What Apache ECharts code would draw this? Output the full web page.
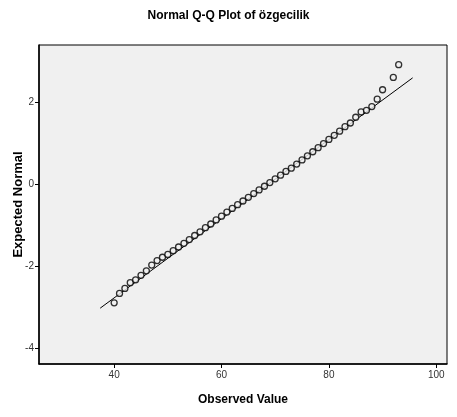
<!DOCTYPE html>
<html>
<head>
<meta charset="utf-8">
<title>Normal Q-Q Plot of özgecilik</title>
<script src="https://cdn.jsdelivr.net/npm/echarts@6/dist/echarts.min.js"></script>
<style>
  html, body { margin: 0; padding: 0; background: #fff; }
  #qqChart { width: 457px; height: 417px; }
</style>
</head>
<body>
<div id="qqChart"></div>
<script>
// observed values (one point per distinct value)
const observed = [
  40, 41, 42, 43, 44, 45, 46, 47, 48, 49,
  50, 51, 52, 53, 54, 55, 56, 57, 58, 59,
  60, 61, 62, 63, 64, 65, 66, 67, 68, 69,
  70, 71, 72, 73, 74, 75, 76, 77, 78, 79,
  80, 81, 82, 83, 84, 85, 86, 87, 88, 89,
  90, 92, 93
];
// expected normal values
const expected = [
  -2.89, -2.66, -2.54, -2.40, -2.33, -2.22, -2.11, -1.97, -1.86, -1.78,
  -1.71, -1.62, -1.53, -1.44, -1.35, -1.25, -1.16, -1.06, -0.97, -0.87,
  -0.78, -0.68, -0.59, -0.50, -0.41, -0.32, -0.23, -0.14, -0.05, 0.04,
  0.13, 0.22, 0.31, 0.39, 0.49, 0.59, 0.69, 0.79, 0.89, 0.99,
  1.09, 1.19, 1.29, 1.40, 1.49, 1.63, 1.76, 1.80, 1.89, 2.07,
  2.30, 2.60, 2.91
];
// reference line end points
const refLineX = [37.4, 95.6];
const refLineY = [-3.02, 2.59];
// tick labels
const xTicks = [40, 60, 80, 100];
const yTicks = [-4, -2, 0, 2];

const font = '"Liberation Sans Narrow", "Liberation Sans", Arial, sans-serif';

const chart = echarts.init(document.getElementById('qqChart'));
chart.setOption({
  animation: false,
  title: {
    text: 'Normal Q-Q Plot of özgecilik',
    left: 'center',
    top: 5,
    textStyle: { fontFamily: font, fontSize: 12, fontWeight: 'bold', color: '#000' }
  },
  grid: {
    left: 39, top: 45, right: 10, bottom: 53,
    outerBoundsMode: 'none',
    containLabel: false,
    show: true,
    backgroundColor: '#f0f0f0',
    borderColor: '#000',
    borderWidth: 1
  },
  xAxis: {
    type: 'value',
    min: 26, max: 102,
    name: 'Observed Value',
    nameLocation: 'middle',
    nameGap: 30,
    nameMoveOverlap: false,
    nameTextStyle: { fontFamily: font, fontSize: 12, fontWeight: 'bold', color: '#000' },
    splitLine: { show: false },
    axisLine: { show: true, onZero: false, lineStyle: { color: '#000', width: 1.5 } },
    axisTick: { show: true, length: 4, customValues: xTicks, lineStyle: { color: '#000' } },
    axisLabel: { customValues: xTicks, margin: 6, fontFamily: font, fontSize: 10, color: '#333' }
  },
  yAxis: {
    type: 'value',
    min: -4.38, max: 3.39,
    name: 'Expected Normal',
    nameLocation: 'middle',
    nameGap: 14,
    nameMoveOverlap: false,
    nameTextStyle: { fontFamily: font, fontSize: 13, fontWeight: 'bold', color: '#000' },
    splitLine: { show: false },
    axisLine: { show: true, onZero: false, lineStyle: { color: '#000', width: 1.5 } },
    axisTick: { show: true, length: 4, customValues: yTicks, lineStyle: { color: '#000' } },
    axisLabel: { customValues: yTicks, margin: 5, fontFamily: font, fontSize: 10, color: '#333' }
  },
  series: [
    {
      type: 'line',
      data: refLineX.map((x, i) => [x, refLineY[i]]),
      symbol: 'none',
      lineStyle: { color: '#000', width: 1 },
      z: 1
    },
    {
      type: 'scatter',
      data: observed.map((x, i) => [x, expected[i]]),
      symbol: 'circle',
      symbolSize: 6,
      itemStyle: { color: '#f0f0f0', borderColor: '#000', borderWidth: 1.3 },
      z: 2
    }
  ]
});
</script>
</body>
</html>
